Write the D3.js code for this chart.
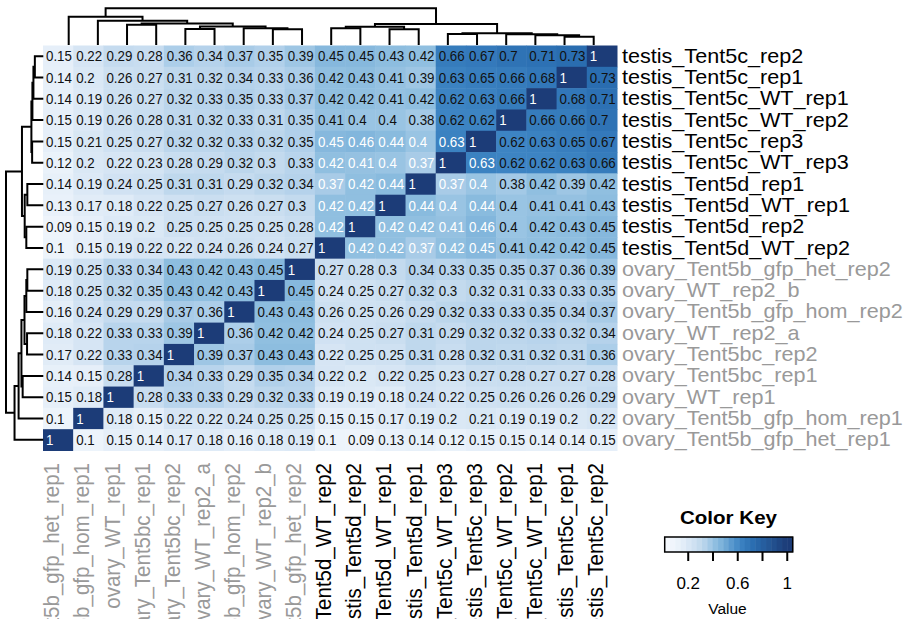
<!DOCTYPE html>
<html>
<head>
<meta charset="utf-8">
<script src="https://cdn.jsdelivr.net/npm/d3@7/dist/d3.min.js"></script>
<style>
body { margin: 0; background: #fff; }
text { font-family: "Liberation Sans", Arial, sans-serif; }
</style>
</head>
<body>
<div id="chart"></div>
<script>
// column order, left to right (row order is the same, bottom to top)
const colNames = [
  "ovary_Tent5b_gfp_het_rep1", "ovary_Tent5b_gfp_hom_rep1", "ovary_WT_rep1",
  "ovary_Tent5bc_rep1", "ovary_Tent5bc_rep2", "ovary_WT_rep2_a",
  "ovary_Tent5b_gfp_hom_rep2", "ovary_WT_rep2_b", "ovary_Tent5b_gfp_het_rep2",
  "testis_Tent5d_WT_rep2", "testis_Tent5d_rep2", "testis_Tent5d_WT_rep1",
  "testis_Tent5d_rep1", "testis_Tent5c_WT_rep3", "testis_Tent5c_rep3",
  "testis_Tent5c_WT_rep2", "testis_Tent5c_WT_rep1", "testis_Tent5c_rep1",
  "testis_Tent5c_rep2"
];
const rowNames = colNames.slice().reverse();

// correlation values, rows top to bottom
const values = [
  [0.15, 0.22, 0.29, 0.28, 0.36, 0.34, 0.37, 0.35, 0.39, 0.45, 0.45, 0.43, 0.42, 0.66, 0.67, 0.7, 0.71, 0.73, 1],
  [0.14, 0.2, 0.26, 0.27, 0.31, 0.32, 0.34, 0.33, 0.36, 0.42, 0.43, 0.41, 0.39, 0.63, 0.65, 0.66, 0.68, 1, 0.73],
  [0.14, 0.19, 0.26, 0.27, 0.32, 0.33, 0.35, 0.33, 0.37, 0.42, 0.42, 0.41, 0.42, 0.62, 0.63, 0.66, 1, 0.68, 0.71],
  [0.15, 0.19, 0.26, 0.28, 0.31, 0.32, 0.33, 0.31, 0.35, 0.41, 0.4, 0.4, 0.38, 0.62, 0.62, 1, 0.66, 0.66, 0.7],
  [0.15, 0.21, 0.25, 0.27, 0.32, 0.32, 0.33, 0.32, 0.35, 0.45, 0.46, 0.44, 0.4, 0.63, 1, 0.62, 0.63, 0.65, 0.67],
  [0.12, 0.2, 0.22, 0.23, 0.28, 0.29, 0.32, 0.3, 0.33, 0.42, 0.41, 0.4, 0.37, 1, 0.63, 0.62, 0.62, 0.63, 0.66],
  [0.14, 0.19, 0.24, 0.25, 0.31, 0.31, 0.29, 0.32, 0.34, 0.37, 0.42, 0.44, 1, 0.37, 0.4, 0.38, 0.42, 0.39, 0.42],
  [0.13, 0.17, 0.18, 0.22, 0.25, 0.27, 0.26, 0.27, 0.3, 0.42, 0.42, 1, 0.44, 0.4, 0.44, 0.4, 0.41, 0.41, 0.43],
  [0.09, 0.15, 0.19, 0.2, 0.25, 0.25, 0.25, 0.25, 0.28, 0.42, 1, 0.42, 0.42, 0.41, 0.46, 0.4, 0.42, 0.43, 0.45],
  [0.1, 0.15, 0.19, 0.22, 0.22, 0.24, 0.26, 0.24, 0.27, 1, 0.42, 0.42, 0.37, 0.42, 0.45, 0.41, 0.42, 0.42, 0.45],
  [0.19, 0.25, 0.33, 0.34, 0.43, 0.42, 0.43, 0.45, 1, 0.27, 0.28, 0.3, 0.34, 0.33, 0.35, 0.35, 0.37, 0.36, 0.39],
  [0.18, 0.25, 0.32, 0.35, 0.43, 0.42, 0.43, 1, 0.45, 0.24, 0.25, 0.27, 0.32, 0.3, 0.32, 0.31, 0.33, 0.33, 0.35],
  [0.16, 0.24, 0.29, 0.29, 0.37, 0.36, 1, 0.43, 0.43, 0.26, 0.25, 0.26, 0.29, 0.32, 0.33, 0.33, 0.35, 0.34, 0.37],
  [0.18, 0.22, 0.33, 0.33, 0.39, 1, 0.36, 0.42, 0.42, 0.24, 0.25, 0.27, 0.31, 0.29, 0.32, 0.32, 0.33, 0.32, 0.34],
  [0.17, 0.22, 0.33, 0.34, 1, 0.39, 0.37, 0.43, 0.43, 0.22, 0.25, 0.25, 0.31, 0.28, 0.32, 0.31, 0.32, 0.31, 0.36],
  [0.14, 0.15, 0.28, 1, 0.34, 0.33, 0.29, 0.35, 0.34, 0.22, 0.2, 0.22, 0.25, 0.23, 0.27, 0.28, 0.27, 0.27, 0.28],
  [0.15, 0.18, 1, 0.28, 0.33, 0.33, 0.29, 0.32, 0.33, 0.19, 0.19, 0.18, 0.24, 0.22, 0.25, 0.26, 0.26, 0.26, 0.29],
  [0.1, 1, 0.18, 0.15, 0.22, 0.22, 0.24, 0.25, 0.25, 0.15, 0.15, 0.17, 0.19, 0.2, 0.21, 0.19, 0.19, 0.2, 0.22],
  [1, 0.1, 0.15, 0.14, 0.17, 0.18, 0.16, 0.18, 0.19, 0.1, 0.09, 0.13, 0.14, 0.12, 0.15, 0.15, 0.14, 0.14, 0.15]
];

// samples whose mutual notes are printed in white
const whiteBlock = [
  "testis_Tent5c_rep3", "testis_Tent5c_WT_rep3", "testis_Tent5d_rep1",
  "testis_Tent5d_WT_rep1", "testis_Tent5d_rep2", "testis_Tent5d_WT_rep2"
];

// hierarchical clustering: [left, right, height]; numbers refer to earlier merges
const merges = [
  ["testis_Tent5c_rep1", "testis_Tent5c_rep2", 0.208],
  ["testis_Tent5c_WT_rep1", 0, 0.243],
  ["testis_Tent5c_WT_rep2", 1, 0.268],
  ["testis_Tent5c_WT_rep3", "testis_Tent5c_rep3", 0.275],
  [3, 2, 0.293],
  ["testis_Tent5d_WT_rep1", "testis_Tent5d_rep1", 0.393],
  ["testis_Tent5d_WT_rep2", "testis_Tent5d_rep2", 0.418],
  [6, 5, 0.458],
  [7, 4, 0.525],
  ["ovary_WT_rep2_b", "ovary_Tent5b_gfp_het_rep2", 0.393],
  ["ovary_Tent5b_gfp_hom_rep2", 9, 0.418],
  ["ovary_Tent5bc_rep2", "ovary_WT_rep2_a", 0.4],
  [11, 10, 0.463],
  ["ovary_WT_rep1", "ovary_Tent5bc_rep1", 0.508],
  [13, 12, 0.538],
  ["ovary_Tent5b_gfp_hom_rep1", 14, 0.608],
  ["ovary_Tent5b_gfp_het_rep1", 15, 0.708],
  [16, 8, 0.918]
];

const keyTicks = [0.2, 0.4, 0.6, 0.8, 1];
const keyTickLabels = [0.2, 0.6, 1];

const width = 908, height = 619;

const svg = d3.select("#chart").append("svg")
  .attr("width", width)
  .attr("height", height);

let x = d3.scaleBand().domain(colNames).range([43, 617]);
let y = d3.scaleBand().domain(rowNames).range([45.5, 450.5]);

let color = d3.scaleLinear()
  .domain([0.05, 0.15, 0.2, 0.25, 0.3, 0.35, 0.42, 0.46, 0.62, 0.72, 1])
  .range(["#f4f8fd", "#e6eff9", "#dae8f5", "#cfe1f2", "#c3daee", "#b1d0ea",
          "#90bfe0", "#82b6dc", "#3d84c3", "#2b6fb2", "#1c3c78"])
  .clamp(true);

// cells
let cells = [];
values.forEach(function(row, i) {
  row.forEach(function(v, j) {
    cells.push({ r: rowNames[i], c: colNames[j], v: v });
  });
});

svg.append("g").selectAll("rect")
  .data(cells)
  .join("rect")
  .attr("x", d => x(d.c))
  .attr("y", d => y(d.r))
  .attr("width", x.bandwidth() + 0.5)
  .attr("height", y.bandwidth() + 0.5)
  .attr("fill", d => color(d.v));

svg.append("g").selectAll("text")
  .data(cells)
  .join("text")
  .attr("transform", d => "translate(" + (x(d.c) + 3) + "," + (y(d.r) + y.bandwidth() / 2 + 5.2) + ") scale(0.92,1)")
  .attr("font-size", 14.5)
  .attr("fill", function(d) {
    if (d.v === 1) return "#ffffff";
    if (whiteBlock.includes(d.r) && whiteBlock.includes(d.c)) return "#ffffff";
    return "#111111";
  })
  .text(d => String(d.v));

// row labels
let labelColor = n => n.startsWith("testis") ? "#000000" : "#999999";

svg.append("g").selectAll("text")
  .data(rowNames)
  .join("text")
  .attr("transform", d => "translate(622," + (y(d) + y.bandwidth() / 2 + 6.5) + ") scale(1.08,1)")
  .attr("font-size", 20)
  .attr("fill", labelColor)
  .text(d => d);

// column labels
svg.append("g").selectAll("text")
  .data(colNames)
  .join("text")
  .attr("transform", d => "translate(" + (x(d) + x.bandwidth() / 2 + 1) + ",463) scale(1.1,1) rotate(-90)")
  .attr("text-anchor", "end")
  .attr("font-size", 20.5)
  .attr("fill", labelColor)
  .text(d => d);

// dendrograms
let leafX = d3.scalePoint().domain(colNames).range([68.7, 593.7]);

function buildTree(leafPos) {
  let out = [];
  merges.forEach(function(m) {
    let kids = [m[0], m[1]].map(k => typeof k === "string" ? { p: leafPos(k), h: 0 } : out[k]);
    out.push({ p: (kids[0].p + kids[1].p) / 2, h: m[2], kids: kids });
  });
  return out;
}

let hTop = d3.scaleLinear().domain([0, 0.918]).range([45, 8.3]);
let hLeft = d3.scaleLinear().domain([0, 0.918]).range([43.3, 6]);

let topTree = buildTree(d => leafX(d));
let leftTree = buildTree(d => y(d) + y.bandwidth() / 2);

svg.append("g").selectAll("path")
  .data(topTree)
  .join("path")
  .attr("fill", "none")
  .attr("stroke", "#000")
  .attr("stroke-width", 2)
  .attr("d", function(n) {
    let a = n.kids[0], b = n.kids[1];
    return "M" + a.p + "," + hTop(a.h) + "V" + hTop(n.h) + "H" + b.p + "V" + hTop(b.h);
  });

svg.append("g").selectAll("path")
  .data(leftTree)
  .join("path")
  .attr("fill", "none")
  .attr("stroke", "#000")
  .attr("stroke-width", 2)
  .attr("d", function(n) {
    let a = n.kids[0], b = n.kids[1];
    return "M" + hLeft(a.h) + "," + a.p + "H" + hLeft(n.h) + "V" + b.p + "H" + hLeft(b.h);
  });

// color key
let keyX = d3.scaleLinear().domain([0.014, 1.048]).range([664.7, 792.7]);
let keyTop = 537, keyBottom = 552;
let nSeg = 24;
let segW = (keyX.domain()[1] - keyX.domain()[0]) / nSeg;
let segs = d3.range(nSeg).map(i => keyX.domain()[0] + segW * i);

let key = svg.append("g");
key.selectAll("rect")
  .data(segs)
  .join("rect")
  .attr("x", d => keyX(d))
  .attr("y", keyTop)
  .attr("width", keyX(segs[0] + segW) - keyX(segs[0]) + 0.5)
  .attr("height", keyBottom - keyTop)
  .attr("fill", d => color(d + segW / 2));

key.append("rect")
  .attr("x", keyX.range()[0])
  .attr("y", keyTop)
  .attr("width", keyX.range()[1] - keyX.range()[0])
  .attr("height", keyBottom - keyTop)
  .attr("fill", "none")
  .attr("stroke", "#000")
  .attr("stroke-width", 1.5);

let keyAxis = d3.axisBottom(keyX)
  .tickValues(keyTicks)
  .tickSize(9)
  .tickPadding(16)
  .tickFormat(d => keyTickLabels.includes(d) ? d3.format("~g")(d) : "");

let ka = key.append("g")
  .attr("transform", "translate(0," + keyBottom + ")")
  .call(keyAxis);
ka.select(".domain").remove();
ka.selectAll("line").attr("stroke-width", 2);
ka.selectAll("text").attr("font-size", 17).attr("fill", "#000")
  .style("font-family", "Liberation Sans, Arial, sans-serif");

key.append("text")
  .attr("x", 728.5)
  .attr("y", 524)
  .attr("text-anchor", "middle")
  .attr("font-size", 19)
  .attr("font-weight", "bold")
  .attr("textLength", 97)
  .attr("lengthAdjust", "spacingAndGlyphs")
  .text("Color Key");

key.append("text")
  .attr("x", 727.5)
  .attr("y", 614)
  .attr("text-anchor", "middle")
  .attr("font-size", 15.5)
  .text("Value");
</script>
</body>
</html>
